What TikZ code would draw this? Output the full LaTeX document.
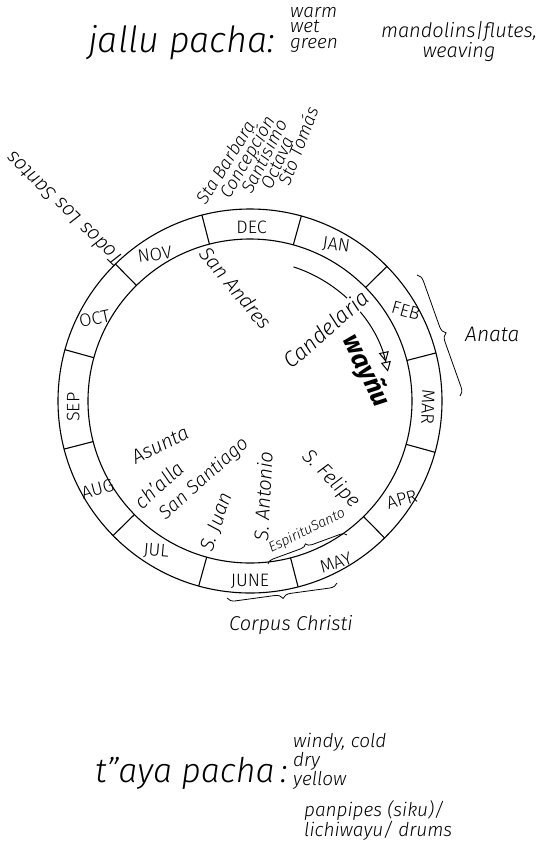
\documentclass[tikz,border=0pt]{standalone}
\usepackage{fontspec}
\setmainfont{Fira Sans}[UprightFont={* Light}, ItalicFont={* Light Italic},
  BoldFont={Fira Sans}, BoldItalicFont={Fira Sans Bold Italic}]
\usetikzlibrary{arrows.meta, decorations.pathreplacing}

\begin{document}
\begin{tikzpicture}[
  x=1pt, y=-1pt,
  ring/.style={line width=1.1pt},
  month/.style={font=\fontsize{18}{18}\selectfont, inner sep=1pt},
  feast/.style={font=\itshape\fontsize{20}{20}\selectfont, inner sep=1pt},
  season/.style={font=\itshape\fontsize{36}{36}\selectfont, inner sep=0pt},
  note/.style={font=\itshape\fontsize{19}{15.5}\selectfont, align=left, inner sep=0pt},
  brc/.style={decorate, decoration={brace, amplitude=8pt}, line width=0.8pt},
  arr/.style={-{Triangle[open, length=10pt, width=10pt] Triangle[open, length=10pt, width=10pt]}, line width=1pt}
]
\useasboundingbox (0,0) rectangle (541,849);
\coordinate (c) at (250,401);

% Seasons
\node[season, anchor=base west] (jallu) at (88,52) {jallu pacha:};
\node[note, anchor=north west] (jalluq) at (290,7) {warm\\wet\\green};
\node[note, font=\itshape\fontsize{20}{16}\selectfont, align=center, anchor=north] (jallum) at (459,21) {mandolins|flutes,\\weaving};

\node[season, font=\itshape\fontsize{34}{34}\selectfont, anchor=base west] (taya) at (95,782) {t''aya pacha\,:};
\node[note, anchor=north west] (tayaq) at (293,733) {windy, cold\\dry\\yellow};
\node[note, font=\itshape\fontsize{19}{18}\selectfont, anchor=north west] (tayam) at (304,800) {panpipes (siku)/\\lichiwayu/ drums};

% Ring of months
\draw[ring] (c) circle[radius=192];
\draw[ring] (c) circle[radius=162];
\foreach \a in {14.5,44.5,...,344.5}
  \draw[ring] ([shift={(-\a:162)}]c) -- ([shift={(-\a:192)}]c);
\foreach \m/\a/\d/\r in {DEC/89.5/174/0, JAN/61/178/-8, FEB/30/180/-16, MAR/-2/178/-92,
    APR/-33/181/16, MAY/-62/183/20, JUNE/-90/180/0, JUL/-122/177/-5,
    AUG/-150/176/15, SEP/182/177/90, OCT/152/176/12, NOV/123/175/8}
  \node[month, rotate=\r] (m-\m) at ([shift={(-\a:\d)}]c) {\m};

% Dance arrow
\draw[arr] ([shift={(-72:141)}]c) arc[start angle=-72, end angle=-12, radius=141];

% Feasts
\node[feast, font=\itshape\fontsize{18}{18}\selectfont, rotate=58, anchor=base west] (barbara) at (205,207) {Sta Barbara};
\node[feast, font=\itshape\fontsize{18}{18}\selectfont, rotate=60, anchor=base west] (concep) at (229,201) {Concepción};
\node[feast, font=\itshape\fontsize{18}{18}\selectfont, rotate=63, anchor=base west] (santis) at (251,196) {Santísimo};
\node[feast, font=\itshape\fontsize{18}{18}\selectfont, rotate=66, anchor=base west] (octava) at (271,192) {Octava};
\node[feast, font=\itshape\fontsize{18}{18}\selectfont, rotate=69, anchor=base west] (tomas) at (289,188) {Sto Tomás};
\node[feast, rotate=136] (todos) at (64,209) {Todos Los Santos};
\node[feast, rotate=-50] (andres) at (236,288) {San Andres};
\node[feast, font=\itshape\fontsize{22}{22}\selectfont, rotate=41, fill=white] (candel) at (326,329) {Candelaria};
\node[feast, font=\bfseries\itshape\fontsize{26}{26}\selectfont, rotate=-64] (waynu) at (366,371) {wayñu};
\node[feast, rotate=27] (asunta) at (160,445) {Asunta};
\node[feast, rotate=43] (challa) at (159,485) {ch'alla};
\node[feast, font=\itshape\fontsize{19}{19}\selectfont, rotate=42] (santiago) at (204,479) {San Santiago};
\node[feast, rotate=70] (juan) at (217,522) {S. Juan};
\node[feast, rotate=87] (antonio) at (263,496) {S. Antonio};
\node[feast, rotate=-45] (felipe) at (331,479) {S. Felipe};
\node[feast, font=\itshape\fontsize{14}{14}\selectfont, rotate=26] (espiritu) at (307,531) {EspirituSanto};
\node[feast] (corpus) at (291,625) {Corpus Christi};
\node[feast, font=\itshape\fontsize{21}{21}\selectfont, anchor=west] (anata) at (464,334) {Anata};

% Braces
\draw[brc] (417,275) -- (460,396);
\draw[brc] (337,583) -- (227,598);
\draw[brc, decoration={amplitude=6pt}] (268,564) -- (347,535);
\end{tikzpicture}
\end{document}
